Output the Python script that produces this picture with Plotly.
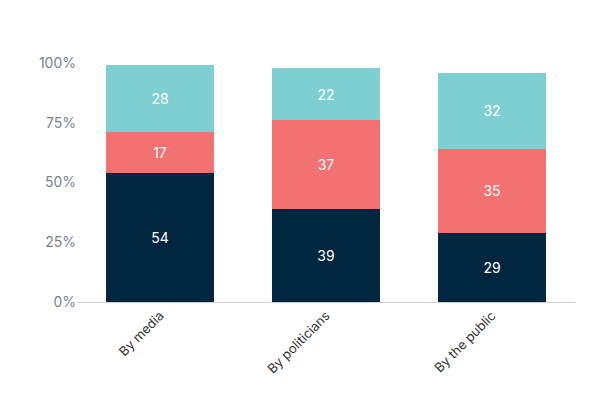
import plotly.graph_objects as go

categories = ["By media", "By politicians", "By the public"]
series_names = ["Bottom", "Middle", "Top"]
bottom = [54, 39, 29]
middle = [17, 37, 35]
top = [28, 22, 32]
colors = ["#022640", "#f27171", "#7dcfd1"]
yticks = [0, 25, 50, 75, 100]
yticklabels = ["0%", "25%", "50%", "75%", "100%"]

fig = go.Figure()
for name, vals, c in zip(series_names, [bottom, middle, top], colors):
    fig.add_trace(go.Bar(x=categories, y=vals, name=name, marker_color=c,
                         marker_line_width=0, text=vals, textposition="inside",
                         insidetextanchor="middle",
                         textfont=dict(color="white", size=14, family="Inter")))
fig.update_layout(
    barmode="stack", bargap=0.35, showlegend=False,
    width=600, height=400, margin=dict(l=69, r=33, t=55, b=106),
    plot_bgcolor="white", paper_bgcolor="white",
    font=dict(family="Inter", color="#7a8290", size=14),
    yaxis=dict(range=[0, 100], tickvals=yticks, ticktext=yticklabels,
               showgrid=False, zeroline=False, ticklen=0),
    xaxis=dict(tickangle=-45, showline=True, linecolor="#d0d0d0", ticks="",
               tickfont=dict(color="#333333", size=13)),
)
fig.write_html("out.html")
